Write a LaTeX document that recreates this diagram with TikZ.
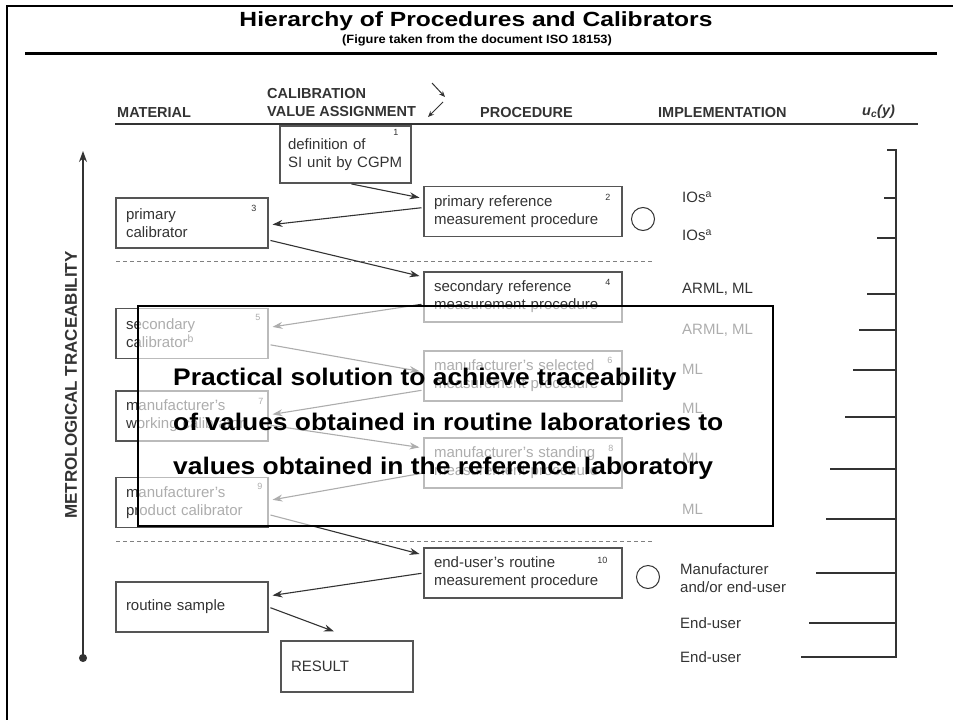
\documentclass[tikz,border=0pt]{standalone}
\usepackage{fontspec}
\setmainfont{Liberation Sans}
\usetikzlibrary{arrows.meta,calc}
\tikzset{>={Stealth[length=10pt,width=7pt]}}
\definecolor{ink}{HTML}{333333}
\definecolor{rim}{HTML}{555555}
\tikzset{
  box/.style={draw=rim, line width=1.1pt, text=ink, font=\fontsize{15}{18}\selectfont,
    align=left, inner xsep=10pt, inner ysep=0pt},
  lbox/.style={box, text width=132pt, minimum height=50pt},
  rbox/.style={box, text width=178pt, minimum height=50pt},
  num/.style={anchor=north east, text=ink, font=\fontsize{9}{10}\selectfont, inner sep=0pt},
  link/.style={->, draw=ink, line width=1.1pt, shorten <=2pt, shorten >=4pt},
  hdr/.style={text=ink, font=\fontsize{14.5}{16}\selectfont\bfseries, anchor=west, inner sep=0pt},
  impl/.style={text=ink, font=\fontsize{15}{18}\selectfont, anchor=west, align=left, inner sep=0pt},
  uctick/.style={draw=ink, line width=1.1pt},
  sepline/.style={draw=gray, dash pattern=on 4pt off 3pt, line width=0.9pt},
  bigtext/.style={anchor=base west, inner sep=0pt, font=\fontsize{24}{28}\selectfont\bfseries}
}
\begin{document}
\begin{tikzpicture}[x=1pt,y=-1pt]
  \useasboundingbox (0,0) rectangle (953,720);
  % frame and title
  \draw[line width=2.7pt] (7,720) -- (7,6) -- (953,6);
  \node[font=\fontsize{20.5}{22}\selectfont\bfseries, inner sep=0pt] (title) at (476,21)
    {\scalebox{1.2}[1]{Hierarchy of Procedures and Calibrators}};
  \node[font=\fontsize{12}{14}\selectfont\bfseries, inner sep=0pt] (subtitle) at (477,40)
    {\scalebox{1.07}[1]{(Figure taken from the document ISO 18153)}};
  \draw[line width=3pt] (25,53) -- (937,53);

  % column heads
  \node[hdr] (hmat) at (117,113) {MATERIAL};
  \node[hdr] (hcal) at (267,94) {CALIBRATION};
  \node[hdr] (hval) at (267,112) {VALUE ASSIGNMENT};
  \node[hdr] (hpro) at (480,113) {PROCEDURE};
  \node[hdr] (himp) at (658,113) {IMPLEMENTATION};
  \node[hdr] (huc) at (862,112) {\itshape u\textsubscript{c}(y)};
  \draw[draw=ink, line width=1.2pt] (115,124) -- (918,124);
  \coordinate (hd1a) at (432,83);
  \coordinate (hd1b) at (445,97);
  \coordinate (hd2a) at (443,102);
  \coordinate (hd2b) at (428,117);
  \draw[-{Stealth[length=6pt,width=5pt]}, draw=ink, line width=1pt] (hd1a) -- (hd1b);
  \draw[-{Stealth[length=6pt,width=5pt]}, draw=ink, line width=1pt] (hd2a) -- (hd2b);

  % traceability axis
  \coordinate (mtlow) at (83,662);
  \coordinate (mthigh) at (83,151);
  \draw[draw=ink, line width=1.1pt, {Circle[length=8pt]}-{Stealth[length=11pt,width=8pt]}] (mtlow) -- (mthigh);
  \node[rotate=90, text=ink, font=\fontsize{17}{20}\selectfont\bfseries, inner sep=0pt] (mtlabel) at (71,385)
    {METROLOGICAL TRACEABILITY};

  % boxes
  \node[box, text width=115pt, inner xsep=8pt, minimum height=57pt] (b1) at (345.5,154.5) {definition of\\SI unit by CGPM};
  \node[rbox] (b2) at (523,211.5) {primary reference\\measurement procedure};
  \node[lbox] (b3) at (192,223) {primary\\calibrator};
  \node[rbox] (b4) at (523,297) {secondary reference\\measurement procedure};
  \node[lbox] (b5) at (192,333.5) {secondary\\calibrator\textsuperscript{b}};
  \node[rbox] (b6) at (523,376) {manufacturer's selected\\measurement procedure};
  \node[lbox] (b7) at (192,416) {manufacturer's\\working calibrator};
  \node[rbox] (b8) at (523,463) {manufacturer's standing\\measurement procedure};
  \node[lbox] (b9) at (192,502.5) {manufacturer's\\product calibrator};
  \node[rbox] (b10) at (523,573) {end-user's routine\\measurement procedure};
  \node[lbox] (rs) at (192,607) {routine sample};
  \node[box, text width=112pt, minimum height=51pt] (res) at (347,666.5) {RESULT};

  \node[num] (n1) at ([xshift=-13,yshift=-4]b1.north east) {1};
  \node[num] (n2) at ([xshift=-12,yshift=-8]b2.north east) {2};
  \node[num] (n3) at ([xshift=-12,yshift=-8]b3.north east) {3};
  \node[num] (n4) at ([xshift=-12,yshift=-8]b4.north east) {4};
  \node[num] (n5) at ([xshift=-8,yshift=-6]b5.north east) {5};
  \node[num] (n6) at ([xshift=-10,yshift=-7]b6.north east) {6};
  \node[num] (n7) at ([xshift=-5,yshift=-8]b7.north east) {7};
  \node[num] (n8) at ([xshift=-9,yshift=-8]b8.north east) {8};
  \node[num] (n9) at ([xshift=-6,yshift=-6]b9.north east) {9};
  \node[num] (n10) at ([xshift=-15,yshift=-10]b10.north east) {10};

  \node[circle, draw=ink, line width=1pt, minimum size=23pt, inner sep=0pt] (c1) at (643,219) {};
  \node[circle, draw=ink, line width=1pt, minimum size=23pt, inner sep=0pt] (c2) at (648,577) {};

  \draw[sepline] (116,261) -- (653,261);
  \draw[sepline] (116,541) -- (653,541);

  % links
  \draw[link] ([xshift=4]b1.south) -- ([yshift=13]b2.west);
  \draw[link] ([yshift=4]b2.west) -- ([yshift=-2]b3.east);
  \draw[link] ([yshift=-17]b3.east) -- ([yshift=20]b4.west);
  \draw[link] ([yshift=-7]b4.west) -- ([yshift=6]b5.east);
  \draw[link] ([yshift=-11]b5.east) -- ([yshift=4]b6.west);
  \draw[link] ([yshift=-14]b6.west) -- ([yshift=1]b7.east);
  \draw[link] ([yshift=-9]b7.east) -- ([yshift=15]b8.west);
  \draw[link] ([yshift=-10]b8.west) -- ([yshift=2]b9.east);
  \draw[link] ([yshift=-12]b9.east) -- ([yshift=18]b10.west);
  \draw[link] (b10.west) -- ([yshift=11]rs.east);
  \draw[link, shorten >=0pt] (rs.east) -- ([xshift=-13,yshift=9]res.north);

  % implementation and u_c(y)
  \node[impl] (i1) at (682,197) {IOs\textsuperscript{a}};
  \node[impl] (i2) at (682,235) {IOs\textsuperscript{a}};
  \node[impl] (i3) at (682,289) {ARML, ML};
  \node[impl] (i4) at (682,330) {ARML, ML};
  \node[impl] (i5) at (682,369) {ML};
  \node[impl] (i6) at (682,408) {ML};
  \node[impl] (i7) at (682,458) {ML};
  \node[impl] (i8) at (682,509) {ML};
  \node[impl] (i9) at (680,578) {Manufacturer\\and/or end-user};
  \node[impl] (i10) at (680,623) {End-user};
  \node[impl] (i11) at (680,657) {End-user};

  \coordinate (uctop) at (896,150);
  \coordinate (ucbot) at (896,657);
  \draw[uctick] (887,150) -- (uctop) -- (ucbot) -- (801,657);
  \foreach \y/\x in {198/884, 238/877, 294/867, 330/859, 370/853, 417/845,
                     469/830, 519/826, 573/816, 623/809}
    \draw[uctick] (\x,\y) -- (896,\y);

  % overlay
  \node[draw=black, line width=1.2pt, fill=white, fill opacity=0.6,
        minimum width=635pt, minimum height=220pt, inner sep=0pt] (veil) at (455.5,416) {};
  \node[bigtext] (t1) at (173,385) {\scalebox{1.1}[1]{Practical solution to achieve traceability}};
  \node[bigtext] (t2) at (173,430) {\scalebox{1.1}[1]{of values obtained in routine laboratories to}};
  \node[bigtext] (t3) at (173,474) {\scalebox{1.1}[1]{values obtained in the reference laboratory}};
\end{tikzpicture}
\end{document}
